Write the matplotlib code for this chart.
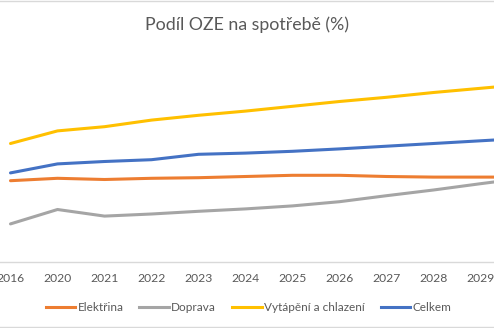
import matplotlib
matplotlib.use("Agg")
import matplotlib.pyplot as plt
from matplotlib.lines import Line2D

years = ["2016", "2020", "2021", "2022", "2023", "2024", "2025", "2026", "2027", "2028", "2029", "2030"]
elektrina = [13.6, 14.0, 13.8, 14.0, 14.1, 14.3, 14.5, 14.5, 14.3, 14.2, 14.2, 14.2]
doprava = [6.4, 8.8, 7.7, 8.05, 8.5, 8.9, 9.4, 10.1, 11.1, 12.05, 13.1, 14.1]
vytapeni = [19.8, 21.9, 22.6, 23.7, 24.5, 25.2, 26.0, 26.8, 27.5, 28.3, 29.0, 29.7]
celkem = [14.9, 16.4, 16.8, 17.1, 18.0, 18.2, 18.5, 18.9, 19.35, 19.8, 20.25, 20.7]

series_names = ["Elektřina", "Doprava", "Vytápění a chlazení", "Celkem"]
series_vals = [elektrina, doprava, vytapeni, celkem]
colors = ["#ED7D31", "#A5A5A5", "#FFC000", "#4472C4"]

plt.rcParams['font.family'] = ['Lato', 'DejaVu Sans']

W, H = 494, 328
fig = plt.figure(figsize=(W / 100, H / 100), dpi=100)

px_per_unit = 6.0
y0_px = H - 262.3          # axis baseline from bottom
top_px = H - 50
ax = fig.add_axes([0, y0_px / H, 1, (top_px - y0_px) / H])

xs = list(range(len(years)))
for name, vals, c in zip(series_names, series_vals, colors):
    ax.plot(xs, vals, color=c, lw=2.2, solid_joinstyle='round', solid_capstyle='round', label=name)

for s in ["top", "right", "left"]:
    ax.spines[s].set_visible(False)
ax.spines["bottom"].set_color("#D9D9D9")
ax.spines["bottom"].set_linewidth(1.0)
ax.set_yticks([])
ax.set_xticks(xs)
ax.set_xticklabels(years, fontsize=8.7, color="#595959")
ax.tick_params(axis="x", length=0, pad=8)

x0 = 10.5
step = 47.0
ax.set_xlim(-x0 / step, (W - x0) / step)
ax.set_ylim(0, (top_px - y0_px) / px_per_unit)

fig.text(247 / W, 1 - 25 / H, "Podíl OZE na spotřebě (%)", ha="center", va="center",
         fontsize=12.8, color="#595959")

handles = [Line2D([0], [0], color=c, lw=2.2) for c in colors]
leg = fig.legend(handles, series_names, loc="center", bbox_to_anchor=(248.5 / W, 1 - 307.3 / H),
                 ncol=4, frameon=False, fontsize=8.5, handlelength=2.5, handletextpad=0.2,
                 columnspacing=1.35, labelcolor="#595959", borderaxespad=0, borderpad=0)

# chart area border (cropped)
fig.add_artist(Line2D([0, 1], [1 - 1 / H, 1 - 1 / H], transform=fig.transFigure, color="#D9D9D9", lw=1))
fig.add_artist(Line2D([0, 1], [1 - 326.7 / H, 1 - 326.7 / H], transform=fig.transFigure, color="#D9D9D9", lw=1))

fig.savefig("out.png", dpi=100)
